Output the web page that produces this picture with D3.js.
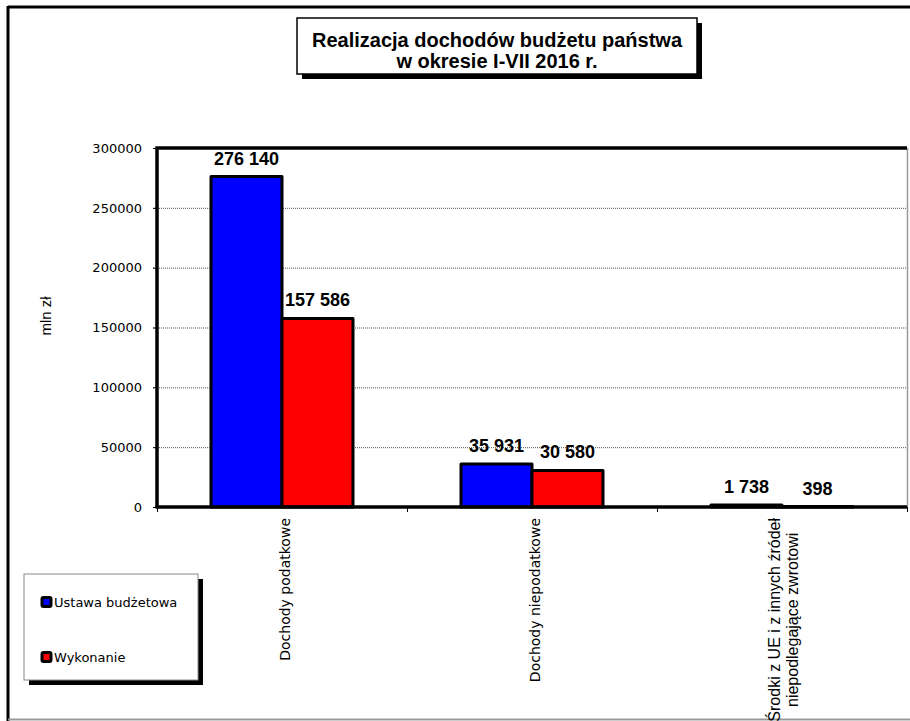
<!DOCTYPE html>
<html><head><meta charset="utf-8">
<script src="https://cdn.jsdelivr.net/npm/d3@7"></script>
<style>html,body{margin:0;padding:0;background:#fff;}svg{display:block;}</style>
</head><body>
<svg id="c" width="910" height="721"></svg>
<script>
const categories = ["Dochody podatkowe", "Dochody niepodatkowe", "Środki z UE i z innych źródeł niepodlegające zwrotowi"];
const categoryLines = [["Dochody podatkowe"], ["Dochody niepodatkowe"], ["Środki z UE i z innych źródeł", "niepodlegające zwrotowi"]];
const seriesNames = ["Ustawa budżetowa", "Wykonanie"];
const ustawa = [276140, 35931, 1738];
const wykonanie = [157586, 30580, 398];
const yTicks = [0, 50000, 100000, 150000, 200000, 250000, 300000];
const titleLines = ["Realizacja dochodów budżetu państwa", "w okresie I-VII 2016 r."];
const yLabel = "mln zł";
const colors = ["#0000ff", "#ff0000"];

const svg = d3.select("#c");
const L = 157, R = 907, T = 148, B = 507;

// outer chart border
svg.append("line").attr("x1", 8).attr("y1", 7).attr("x2", 910).attr("y2", 7).attr("stroke", "#000").attr("stroke-width", 3);
svg.append("line").attr("x1", 8).attr("y1", 6).attr("x2", 8).attr("y2", 721).attr("stroke", "#000").attr("stroke-width", 3);
svg.append("line").attr("x1", 8).attr("y1", 719.5).attr("x2", 910).attr("y2", 719.5).attr("stroke", "#999").attr("stroke-width", 2);

const y = d3.scaleLinear().domain([0, 300000]).range([B, T]);
const x0 = d3.scaleBand().domain(categories).range([L, R]).paddingInner(0.432).paddingOuter(0.216);
const x1 = d3.scaleBand().domain(seriesNames).range([0, x0.bandwidth()]);
const step = x0.step();

// gridlines
svg.append("g").selectAll("line").data(yTicks.filter(t => t > 0 && t < 300000)).join("line")
  .attr("x1", L - 4).attr("x2", R).attr("y1", d => y(d) + 0.5).attr("y2", d => y(d) + 0.5)
  .attr("stroke", "#555").attr("stroke-width", 1).attr("stroke-dasharray", "1,1");

// right border of plot
svg.append("line").attr("x1", R + 0.5).attr("x2", R + 0.5).attr("y1", T).attr("y2", B).attr("stroke", "#999").attr("stroke-width", 1.5);

// y axis
const yAxis = d3.axisLeft(y).tickValues(yTicks).tickSize(4).tickPadding(11).tickFormat(d3.format("d"));
const gy = svg.append("g").attr("transform", `translate(${L},0)`).call(yAxis);
gy.select(".domain").remove();
gy.selectAll(".tick line").attr("stroke", "#000").attr("stroke-width", 1);
gy.selectAll("text").attr("font-family", "DejaVu Sans").attr("font-size", 13).attr("fill", "#000");

// x axis ticks (between categories)
const xTickPos = d3.range(categories.length + 1).map(i => L + i * step);
svg.append("g").selectAll("line").data(xTickPos).join("line")
  .attr("x1", d => d + 0.5).attr("x2", d => d + 0.5).attr("y1", B).attr("y2", B + 5)
  .attr("stroke", "#000").attr("stroke-width", 1);

// bars
const data = categories.map((c, i) => ({cat: c, vals: [ustawa[i], wykonanie[i]]}));
const groups = svg.append("g").selectAll("g").data(data).join("g")
  .attr("transform", d => `translate(${x0(d.cat)},0)`);
groups.selectAll("rect").data(d => d.vals.map((v, j) => ({v, s: seriesNames[j], j}))).join("rect")
  .attr("x", d => x1(d.s)).attr("width", x1.bandwidth())
  .attr("y", d => y(d.v)).attr("height", d => B - y(d.v))
  .attr("fill", d => colors[d.j]).attr("stroke", "#000").attr("stroke-width", 3)
  .attr("stroke-linejoin", "round");

// value labels
const fmt = d3.formatLocale({decimal: ",", thousands: " ", grouping: [3], currency: ["", ""]}).format(",");
groups.selectAll("text.val").data(d => d.vals.map((v, j) => ({v, s: seriesNames[j], j}))).join("text")
  .attr("class", "val")
  .attr("x", d => x1(d.s) + x1.bandwidth() / 2)
  .attr("y", d => y(d.v) - 12)
  .attr("text-anchor", "middle")
  .attr("font-family", "Liberation Sans, Arial, sans-serif").attr("font-weight", "bold").attr("font-size", 18)
  .attr("fill", "#000").text(d => fmt(d.v));

// plot frame (left, top, bottom)
svg.append("path").attr("d", `M${L},${B}V${T}H${R}`).attr("fill", "none").attr("stroke", "#000").attr("stroke-width", 3.5);
svg.append("line").attr("x1", L - 1.5).attr("x2", R).attr("y1", B).attr("y2", B).attr("stroke", "#000").attr("stroke-width", 3.5);

// category labels
categories.forEach((c, i) => {
  const cx = L + i * step + step / 2;
  const lines = categoryLines[i];
  if (lines.length === 1) {
    svg.append("text").attr("transform", `translate(${cx + 3},518) rotate(-90)`)
      .attr("text-anchor", "end").attr("dy", "0.35em")
      .attr("font-family", "DejaVu Sans").attr("font-size", 14).attr("fill", "#000").text(lines[0]);
  } else {
    const g = svg.append("g");
    const t0 = g.append("text").attr("font-family", "Liberation Sans, Arial, sans-serif").attr("font-size", 16).text(lines[0]);
    const len = t0.node().getComputedTextLength();
    t0.remove();
    const cy = 518 + len / 2;
    lines.forEach((ln, k) => {
      g.append("text").attr("transform", `translate(${cx - 8 + k * 18},${cy}) rotate(-90)`)
        .attr("text-anchor", "middle").attr("dy", "0.35em")
        .attr("font-family", "Liberation Sans, Arial, sans-serif").attr("font-size", 16).attr("fill", "#000").text(ln);
    });
  }
});

// y axis title
svg.append("text").attr("transform", "translate(46,316) rotate(-90)").attr("text-anchor", "middle").attr("dy", "0.35em")
  .attr("font-family", "Liberation Sans, Arial, sans-serif").attr("font-size", 15).attr("fill", "#000").text(yLabel);

// title box
const tb = {x: 297, y: 18, w: 400, h: 56};
svg.append("rect").attr("x", tb.x + 5).attr("y", tb.y + 5).attr("width", tb.w).attr("height", tb.h).attr("fill", "#000");
svg.append("rect").attr("x", tb.x).attr("y", tb.y).attr("width", tb.w).attr("height", tb.h).attr("fill", "#fff").attr("stroke", "#000").attr("stroke-width", 1.5);
svg.append("g").selectAll("text").data(titleLines).join("text")
  .attr("x", tb.x + tb.w / 2).attr("y", (d, i) => 47 + i * 21).attr("text-anchor", "middle")
  .attr("font-family", "Liberation Sans, Arial, sans-serif").attr("font-weight", "bold").attr("font-size", 20)
  .attr("fill", "#000").text(d => d);

// legend box
const lb = {x: 24, y: 574, w: 174, h: 106};
svg.append("rect").attr("x", lb.x + 5).attr("y", lb.y + 5).attr("width", lb.w).attr("height", lb.h).attr("fill", "#000");
svg.append("rect").attr("x", lb.x).attr("y", lb.y).attr("width", lb.w).attr("height", lb.h).attr("fill", "#fff").attr("stroke", "#888").attr("stroke-width", 1);
const li = svg.append("g").selectAll("g").data(seriesNames).join("g")
  .attr("transform", (d, i) => `translate(42,${602 + i * 55})`);
li.append("rect").attr("x", 0).attr("y", -4.5).attr("width", 9).attr("height", 9).attr("rx", 1.5)
  .attr("fill", (d, i) => colors[i]).attr("stroke", "#000").attr("stroke-width", 3);
li.append("text").attr("x", 12).attr("dy", "0.35em").attr("font-family", "DejaVu Sans").attr("font-size", 13)
  .attr("fill", "#000").text(d => d);
</script>
</body></html>
